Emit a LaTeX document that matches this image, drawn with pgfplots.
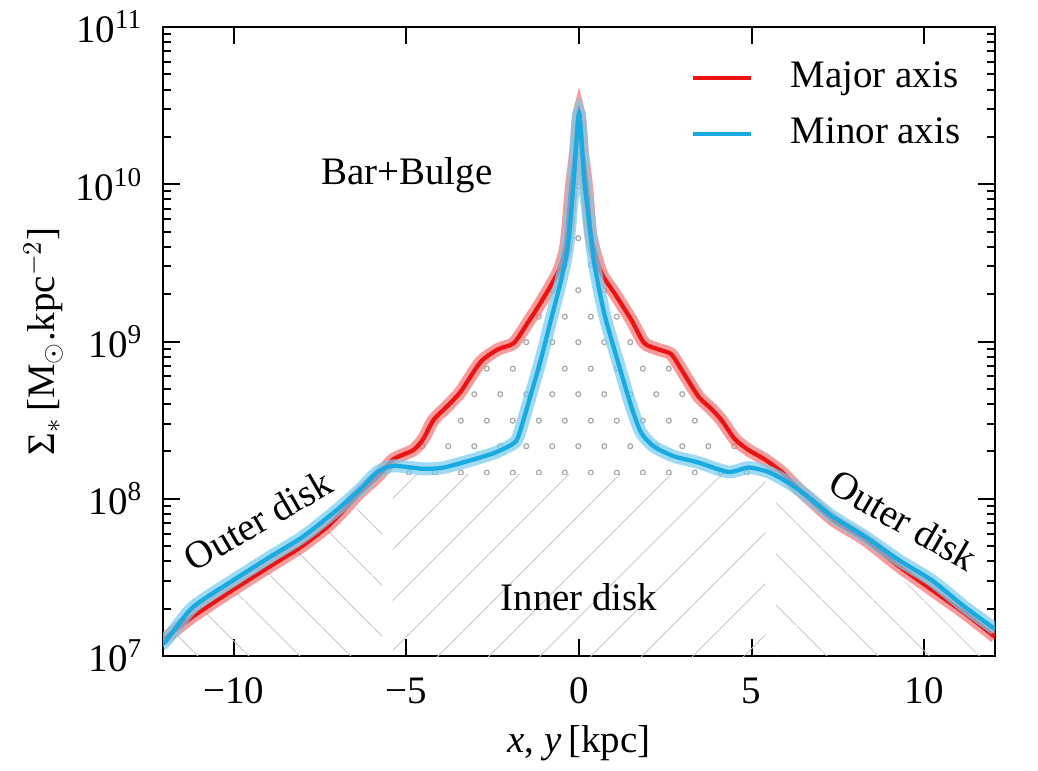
\documentclass[border=0pt]{standalone}
\usepackage{fontspec}
\setmainfont{Liberation Serif}
\usepackage{pgfplots}
\usepackage{pgfplotstable}
\pgfplotsset{compat=1.18}
\usetikzlibrary{patterns,patterns.meta}
\definecolor{majred}{RGB}{235,20,20}
\definecolor{minblue}{RGB}{25,170,225}
\pgfdeclarepatternformonly{bulgedots}{\pgfqpoint{0pt}{0pt}}{\pgfqpoint{9.75pt}{19.5pt}}{\pgfqpoint{9.75pt}{19.5pt}}{%
  \pgfsetlinewidth{0.45pt}%
  \pgfpathcircle{\pgfqpoint{2.4375pt}{4.875pt}}{0.95pt}%
  \pgfpathcircle{\pgfqpoint{7.3125pt}{14.625pt}}{0.95pt}%
  \pgfusepath{stroke}}

\pgfplotstableread{
x y
-12.06 1.26e7
-11.19 1.78e7
-10.03 2.63e7
-8.95 3.72e7
-8.08 4.90e7
-7.30 6.61e7
-6.72 8.91e7
-6.34 1.10e8
-5.84 1.38e8
-5.38 1.78e8
-4.80 2.04e8
-4.51 2.40e8
-4.22 3.16e8
-3.81 3.89e8
-3.43 4.79e8
-2.85 7.41e8
-2.35 8.91e8
-1.89 9.77e8
-1.48 1.32e9
-1.10 1.78e9
-0.61 2.75e9
-0.38 4.07e9
-0.23 9.33e9
-0.10 1.60e10
0.00 2.82e10
0.10 1.60e10
0.23 9.33e9
0.35 4.68e9
0.64 2.75e9
1.02 2.04e9
1.51 1.38e9
1.89 9.77e8
2.30 8.91e8
2.67 8.32e8
2.97 6.61e8
3.46 4.47e8
3.84 3.72e8
4.13 3.16e8
4.51 2.40e8
4.91 2.04e8
5.38 1.78e8
5.87 1.48e8
6.37 1.15e8
7.33 7.41e7
8.28 5.50e7
9.27 3.72e7
10.23 2.63e7
11.19 1.86e7
12.06 1.32e7
}\majortab

\pgfplotstableread{
x y
-12.06 1.20e7
-11.95 1.26e7
-11.19 2.04e7
-10.03 3.02e7
-8.95 4.27e7
-7.99 5.75e7
-7.01 8.51e7
-6.34 1.15e8
-5.84 1.48e8
-5.38 1.62e8
-4.51 1.55e8
-3.92 1.58e8
-3.05 1.78e8
-2.47 1.95e8
-1.98 2.19e8
-1.77 2.45e8
-1.41 4.47e8
-1.10 7.76e8
-0.81 1.38e9
-0.52 2.45e9
-0.32 4.07e9
-0.15 1.07e10
0.00 2.82e10
0.15 1.07e10
0.26 6.61e9
0.44 3.16e9
0.73 1.51e9
1.13 7.41e8
1.51 3.89e8
1.80 2.63e8
2.18 2.14e8
2.76 1.86e8
3.46 1.70e8
4.33 1.48e8
4.91 1.58e8
5.49 1.48e8
6.08 1.26e8
6.66 1.02e8
7.33 7.76e7
8.28 5.75e7
9.27 4.07e7
10.23 3.02e7
11.19 2.04e7
12.06 1.48e7
}\minortab

\begin{document}
\fontsize{14.6}{17.5}\selectfont
\begin{tikzpicture}
\begin{axis}[
  scale only axis, width=312pt, height=235.9pt,
  xmin=-12.05, xmax=12.05, ymin=1e7, ymax=1e11, ymode=log,
  xtick={-10,-5,0,5,10}, xticklabels={−10,−5,0,5,10},
  ytick={1e7,1e8,1e9,1e10,1e11},
  yticklabels={10\textsuperscript{7},10\textsuperscript{8},10\textsuperscript{9},10\textsuperscript{10},10\textsuperscript{11}},
  minor ytick={2e7,3e7,4e7,5e7,6e7,7e7,8e7,9e7,2e8,3e8,4e8,5e8,6e8,7e8,8e8,9e8,2e9,3e9,4e9,5e9,6e9,7e9,8e9,9e9,2e10,3e10,4e10,5e10,6e10,7e10,8e10,9e10},
  tick align=inside, xtick pos=both, ytick pos=both,
  major tick length=6.4pt, minor tick length=3pt,
  axis line style={line width=0.75pt},
  tick style={black, line width=0.75pt},
  xticklabel style={yshift=-3pt},
  yticklabel style={xshift=-2.6pt},
  xlabel={\textit{x}, \textit{y}\,[kpc]},
  ylabel={Σ$_*$\,[M$_\odot$.kpc$^{-2}$]},
  xlabel style={at={(axis description cs:0.5,-0.1526)}, anchor=base},
  ylabel style={at={(axis description cs:-0.130,0.5)}, anchor=base, rotate=0},
  legend style={at={(axis description cs:0.6334,0.9555)}, anchor=north west,
    draw=none, fill=none, inner sep=0pt, row sep=4pt,
    nodes={inner xsep=0pt, inner ysep=2pt, text height=10pt, text depth=3pt}},
  legend cell align=left,
  legend image code/.code={\draw[#1, line width=1.5pt] (0pt,0pt) -- (21.75pt,0pt); \path (36pt,0pt);},
]
% background regions
\addplot[draw=none, pattern={Lines[angle=45,distance=13.9pt,line width=0.4pt]}, pattern color=black!22, forget plot]
  coordinates {(-5.4,1e7) (-5.4,1.42e8) (5.4,1.42e8) (5.4,1e7)};
\addplot[draw=none, pattern={Lines[angle=-45,distance=13.9pt,line width=0.4pt]}, pattern color=black!22, forget plot]
  coordinates {(-12.1,1e7) (-12.1,1.15e7) (-5.7,1.12e8) (-5.7,1e7)};
\addplot[draw=none, pattern={Lines[angle=-45,distance=13.9pt,line width=0.4pt]}, pattern color=black!22, forget plot]
  coordinates {(5.7,1e7) (5.7,1.12e8) (12.1,1.15e7) (12.1,1e7)};
\addplot[draw=none, pattern=bulgedots, pattern color=black!35, forget plot]
  coordinates {(-5.9,1.42e8) (-5.38,1.7e8) (-4.80,1.95e8) (-4.51,2.3e8) (-4.22,3.0e8) (-3.81,3.7e8) (-3.43,4.5e8) (-2.85,7.0e8) (-2.35,8.4e8) (-1.89,9.2e8) (-1.48,1.25e9) (-1.10,1.7e9) (-0.61,2.6e9) (-0.38,3.8e9) (-0.23,8.5e9) (0,2.6e10) (0.23,8.5e9) (0.35,4.4e9) (0.64,2.6e9) (1.02,1.9e9) (1.51,1.3e9) (1.89,9.2e8) (2.30,8.4e8) (2.67,7.9e8) (2.97,6.2e8) (3.46,4.2e8) (3.84,3.5e8) (4.13,3.0e8) (4.51,2.3e8) (4.91,1.95e8) (5.38,1.7e8) (5.9,1.42e8)};
% bands and lines
\addplot[majred!60, line width=4.8pt, opacity=0.7, smooth, tension=0.4, forget plot] table {\majortab};
\addplot[majred, line width=1.6pt, smooth, tension=0.4] table {\majortab};
\addlegendentry{Major axis}
\addplot[minblue!60, line width=4.8pt, opacity=0.7, smooth, tension=0.4, forget plot] table {\minortab};
\addplot[minblue, line width=1.6pt, smooth, tension=0.4] table {\minortab};
\addlegendentry{Minor axis}
% annotations
\node at (axis cs:-4.99,1.15e10) {Bar+Bulge};
\node at (axis cs:0,2.38e7) {Inner disk};
\node[rotate=30] at (axis cs:-9.3,7.3e7) {Outer disk};
\node[rotate=-30] at (axis cs:9.4,7.3e7) {Outer disk};
\end{axis}
\pgfresetboundingbox
\path[use as bounding box] ([shift={(-61.125pt,-42.75pt)}]current axis.south west) rectangle ([shift={(16.125pt,10.125pt)}]current axis.north east);
\end{tikzpicture}
\end{document}
